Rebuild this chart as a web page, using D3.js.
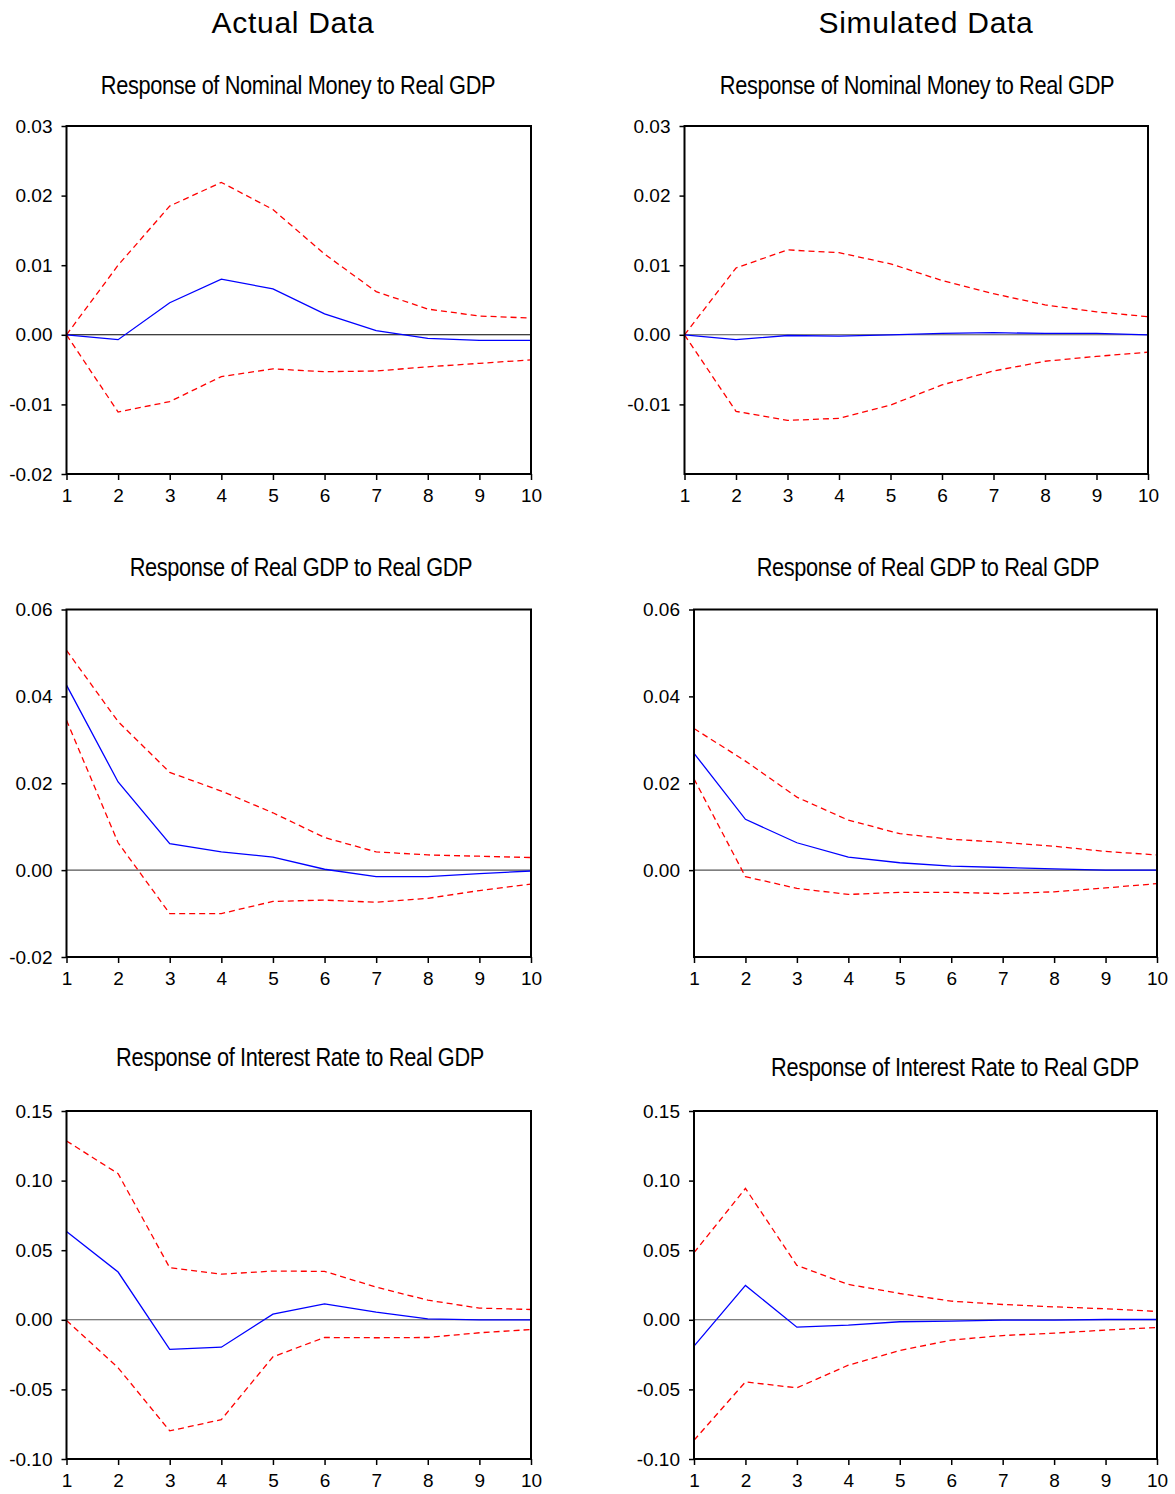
<!DOCTYPE html>
<html>
<head>
<meta charset="utf-8">
<script src="https://cdn.jsdelivr.net/npm/d3@7"></script>
<style>
  html, body { margin: 0; padding: 0; background: #fff; }
  svg { display: block; }
  text { font-family: "Liberation Sans", Arial, sans-serif; fill: #000; }
</style>
</head>
<body>
<svg id="chart" width="1175" height="1494"></svg>
<script>
// ---------- data ----------
const periods = [1, 2, 3, 4, 5, 6, 7, 8, 9, 10];
const columnTitles = ["Actual Data", "Simulated Data"];
const panelTitles = [
  "Response of Nominal Money to Real GDP",
  "Response of Nominal Money to Real GDP",
  "Response of Real GDP to Real GDP",
  "Response of Real GDP to Real GDP",
  "Response of Interest Rate to Real GDP",
  "Response of Interest Rate to Real GDP"
];

// Actual data: Nominal Money to Real GDP
const actMoneyResp  = [0, -0.0007, 0.0046, 0.0080, 0.0066, 0.0030, 0.0006, -0.0005, -0.0008, -0.0008];
const actMoneyUpper = [0, 0.0100, 0.0185, 0.0219, 0.0180, 0.0116, 0.0062, 0.0037, 0.0027, 0.0024];
const actMoneyLower = [0, -0.0111, -0.0096, -0.0060, -0.0049, -0.0053, -0.0052, -0.0046, -0.0041, -0.0036];
// Simulated data: Nominal Money to Real GDP
const simMoneyResp  = [0, -0.0007, -0.0001, -0.0002, 0.0000, 0.0002, 0.0003, 0.0002, 0.0002, 0.0000];
const simMoneyUpper = [0, 0.0096, 0.0122, 0.0118, 0.0102, 0.0078, 0.0059, 0.0043, 0.0033, 0.0026];
const simMoneyLower = [0, -0.0110, -0.0123, -0.0120, -0.0101, -0.0072, -0.0052, -0.0038, -0.0031, -0.0025];
// Actual data: Real GDP to Real GDP
const actGdpResp  = [0.0426, 0.0203, 0.0061, 0.0042, 0.0030, 0.0002, -0.0015, -0.0015, -0.0008, -0.0002];
const actGdpUpper = [0.0506, 0.0342, 0.0225, 0.0182, 0.0132, 0.0075, 0.0042, 0.0035, 0.0032, 0.0029];
const actGdpLower = [0.0345, 0.0063, -0.0100, -0.0100, -0.0072, -0.0069, -0.0074, -0.0065, -0.0047, -0.0032];
// Simulated data: Real GDP to Real GDP
const simGdpResp  = [0.0269, 0.0117, 0.0063, 0.0030, 0.0017, 0.0009, 0.0006, 0.0003, 0.0000, 0.0000];
const simGdpUpper = [0.0326, 0.0251, 0.0168, 0.0115, 0.0084, 0.0071, 0.0064, 0.0055, 0.0043, 0.0035];
const simGdpLower = [0.0210, -0.0015, -0.0042, -0.0056, -0.0051, -0.0051, -0.0054, -0.0050, -0.0041, -0.0031];
// Actual data: Interest Rate to Real GDP
const actRateResp  = [0.0635, 0.0343, -0.0213, -0.0197, 0.0041, 0.0115, 0.0055, 0.0007, 0.0000, 0.0000];
const actRateUpper = [0.1285, 0.1050, 0.0374, 0.0328, 0.0350, 0.0348, 0.0235, 0.0141, 0.0084, 0.0074];
const actRateLower = [-0.0005, -0.0345, -0.0798, -0.0717, -0.0266, -0.0127, -0.0129, -0.0127, -0.0093, -0.0070];
// Simulated data: Interest Rate to Real GDP
const simRateResp  = [-0.0189, 0.0247, -0.0053, -0.0038, -0.0014, -0.0010, -0.0002, -0.0002, 0.0002, 0.0002];
const simRateUpper = [0.0482, 0.0944, 0.0391, 0.0254, 0.0189, 0.0134, 0.0110, 0.0093, 0.0079, 0.0060];
const simRateLower = [-0.0865, -0.0446, -0.0489, -0.0326, -0.0221, -0.0146, -0.0113, -0.0096, -0.0074, -0.0055];

// y-axis tick labels per panel
const ticksMoneyActual = [-0.02, -0.01, 0.00, 0.01, 0.02, 0.03];
const ticksMoneySim    = [-0.01, 0.00, 0.01, 0.02, 0.03];
const ticksGdpActual   = [-0.02, 0.00, 0.02, 0.04, 0.06];
const ticksGdpSim      = [0.00, 0.02, 0.04, 0.06];
const ticksRate        = [-0.10, -0.05, 0.00, 0.05, 0.10, 0.15];
const domainMoney = [-0.02, 0.03];
const domainGdp   = [-0.02, 0.06];
const domainRate  = [-0.10, 0.15];

// ---------- layout (positions/styles only) ----------
const layout = [
  { x0: 66.5, x1: 531,  y0: 126,   y1: 474,  tx: 298, ty: 94 },
  { x0: 684.5, x1: 1148, y0: 126,  y1: 474,  tx: 917, ty: 94 },
  { x0: 66.5, x1: 531,  y0: 609.5, y1: 957,  tx: 301, ty: 576 },
  { x0: 694,  x1: 1157, y0: 609.5, y1: 957,  tx: 928, ty: 576 },
  { x0: 66.5, x1: 531,  y0: 1111,  y1: 1459, tx: 300, ty: 1066 },
  { x0: 694,  x1: 1157, y0: 1111,  y1: 1459, tx: 955, ty: 1076 }
];

const panels = [
  { resp: actMoneyResp, upper: actMoneyUpper, lower: actMoneyLower, domain: domainMoney, ticks: ticksMoneyActual },
  { resp: simMoneyResp, upper: simMoneyUpper, lower: simMoneyLower, domain: domainMoney, ticks: ticksMoneySim },
  { resp: actGdpResp,   upper: actGdpUpper,   lower: actGdpLower,   domain: domainGdp,   ticks: ticksGdpActual },
  { resp: simGdpResp,   upper: simGdpUpper,   lower: simGdpLower,   domain: domainGdp,   ticks: ticksGdpSim },
  { resp: actRateResp,  upper: actRateUpper,  lower: actRateLower,  domain: domainRate,  ticks: ticksRate },
  { resp: simRateResp,  upper: simRateUpper,  lower: simRateLower,  domain: domainRate,  ticks: ticksRate }
];

const svg = d3.select("#chart");

// column titles
const colCenters = [293, 926];
columnTitles.forEach((t, i) => {
  svg.append("text")
    .attr("x", colCenters[i]).attr("y", 33)
    .attr("text-anchor", "middle")
    .style("font-size", "30px")
    .style("letter-spacing", "0.7px")
    .text(t);
});

const fmt = v => (Math.abs(v) < 1e-12 ? 0 : v).toFixed(2);
const FONT = "'Liberation Sans', Arial, sans-serif";

panels.forEach((p, i) => {
  const L = layout[i];
  const x = d3.scaleLinear().domain([1, 10]).range([L.x0, L.x1]);
  const y = d3.scaleLinear().domain(p.domain).range([L.y1, L.y0]);
  const g = svg.append("g");

  // title (condensed horizontally)
  g.append("text")
    .attr("transform", `translate(${L.tx},${L.ty}) scale(0.87,1)`)
    .attr("text-anchor", "middle")
    .style("font-size", "25px")
    .style("letter-spacing", "-0.4px")
    .text(panelTitles[i]);

  // zero line
  g.append("line")
    .attr("x1", L.x0).attr("x2", L.x1)
    .attr("y1", y(0)).attr("y2", y(0))
    .attr("stroke", i === 0 ? "#000" : "#555")
    .attr("stroke-width", 1.1);

  const line = d3.line().x((d, k) => x(periods[k])).y(d => y(d));

  g.append("path").datum(p.upper)
    .attr("d", line).attr("fill", "none")
    .attr("stroke", "#ff0000").attr("stroke-width", 1.3)
    .attr("stroke-dasharray", "6,4");
  g.append("path").datum(p.lower)
    .attr("d", line).attr("fill", "none")
    .attr("stroke", "#ff0000").attr("stroke-width", 1.3)
    .attr("stroke-dasharray", "6,4");
  g.append("path").datum(p.resp)
    .attr("d", line).attr("fill", "none")
    .attr("stroke", "#0000ff").attr("stroke-width", 1.3);

  // y axis
  const ya = g.append("g")
    .attr("transform", `translate(${L.x0},0)`)
    .call(d3.axisLeft(y).tickValues(p.ticks).tickFormat(fmt).tickSize(5).tickPadding(9));
  ya.select(".domain").remove();
  ya.selectAll(".tick line").attr("stroke", "#000").attr("stroke-width", 1.5);
  ya.selectAll(".tick text").style("font-size", "19px").style("font-family", FONT);

  // x axis
  const xa = g.append("g")
    .attr("transform", `translate(0,${L.y1})`)
    .call(d3.axisBottom(x).tickValues(periods).tickFormat(d3.format("d")).tickSize(6).tickPadding(9));
  xa.select(".domain").remove();
  xa.selectAll(".tick line").attr("stroke", "#000").attr("stroke-width", 1.5);
  xa.selectAll(".tick text").style("font-size", "19px").style("font-family", FONT);

  // frame
  g.append("rect")
    .attr("x", L.x0).attr("y", L.y0)
    .attr("width", L.x1 - L.x0).attr("height", L.y1 - L.y0)
    .attr("fill", "none").attr("stroke", "#000").attr("stroke-width", 2);
});
</script>
</body>
</html>
